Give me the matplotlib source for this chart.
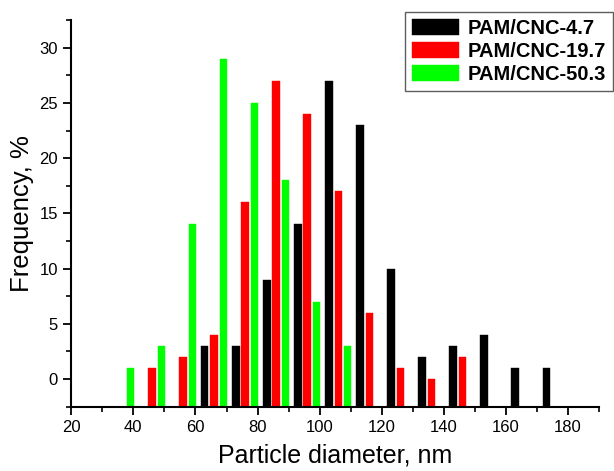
import matplotlib.pyplot as plt
from matplotlib.ticker import MultipleLocator
import numpy as np

plt.rcParams['font.family'] = ['Liberation Sans', 'DejaVu Sans']

# Particle size distributions (bin centre, nm -> frequency, %)
d_47 = [63, 73, 83, 93, 103, 113, 123, 133, 143, 153, 163, 173]
f_47 = [3, 3, 9, 14, 27, 23, 10, 2, 3, 4, 1, 1]

d_197 = [46, 56, 66, 76, 86, 96, 106, 116, 126, 136, 146]
f_197 = [1, 2, 4, 16, 27, 24, 17, 6, 1, 0, 2]

d_503 = [39, 49, 59, 69, 79, 89, 99, 109]
f_503 = [1, 3, 14, 29, 25, 18, 7, 3]

labels = ['PAM/CNC-4.7', 'PAM/CNC-19.7', 'PAM/CNC-50.3']
colors = ['#000000', '#ff0000', '#00ff00']

ymin, ymax = -2.5, 32.5
width = 2.4

fig = plt.figure(figsize=(6.14, 4.71), dpi=100)
ax = fig.add_axes([0.1161, 0.1365, 0.8595, 0.821])

handles = []
for d, f, lab, c in zip([d_47, d_197, d_503], [f_47, f_197, f_503], labels, colors):
    h = ax.bar(d, np.array(f) - ymin, bottom=ymin, width=width, color=c,
               edgecolor=c, linewidth=0.3, label=lab)
    handles.append(h)

ax.set_xlim(20, 190)
ax.set_ylim(ymin, ymax)
ax.xaxis.set_minor_locator(MultipleLocator(10))
ax.yaxis.set_minor_locator(MultipleLocator(2.5))
ax.set_xticks(np.arange(20, 181, 20))
ax.set_yticks(np.arange(0, 31, 5))

for s in ['top', 'right']:
    ax.spines[s].set_visible(False)
for s in ['left', 'bottom']:
    ax.spines[s].set_linewidth(1.5)

ax.tick_params(which='major', direction='out', length=6, width=1.3, labelsize=12)
ax.tick_params(which='minor', direction='out', length=3.5, width=1.2)

ax.set_xlabel('Particle diameter, nm', fontsize=18, labelpad=6)
ax.set_ylabel('Frequency, %', fontsize=18.5, labelpad=4)

leg = fig.legend(handles=handles, loc='upper right', bbox_to_anchor=(0.999, 0.975),
                 prop={'weight': 'bold', 'size': 14.5}, frameon=True, fancybox=False,
                 handlelength=2.35, handleheight=0.8, handletextpad=0.45,
                 labelspacing=0.2, borderpad=0.35, borderaxespad=0)
leg.get_frame().set_edgecolor('#333333')
leg.get_frame().set_linewidth(1.0)

fig.savefig('out.png', dpi=100)
